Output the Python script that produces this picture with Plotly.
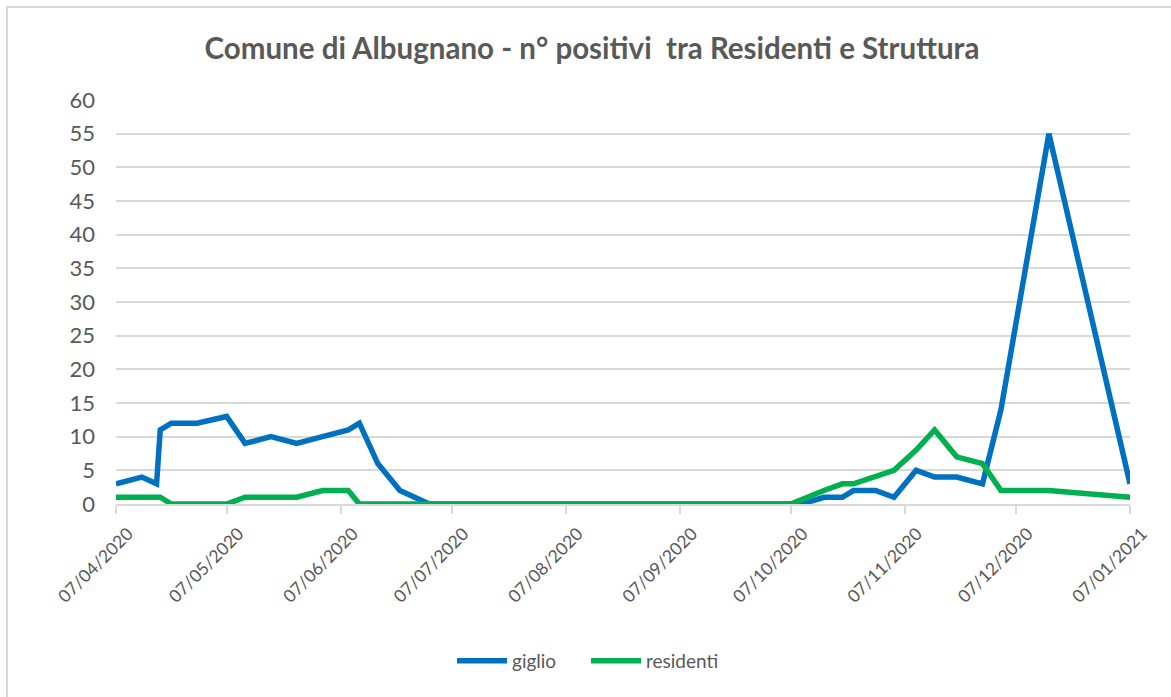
import plotly.graph_objects as go

# ---- data ----
giglio_dates = ["2020-04-07", "2020-04-14", "2020-04-18", "2020-04-19", "2020-04-22",
                "2020-04-29", "2020-05-07", "2020-05-12", "2020-05-19", "2020-05-26",
                "2020-06-02", "2020-06-09", "2020-06-12", "2020-06-17", "2020-06-23",
                "2020-07-01", "2020-08-01", "2020-09-01", "2020-10-07", "2020-10-10",
                "2020-10-16", "2020-10-21", "2020-10-24", "2020-10-30", "2020-11-04",
                "2020-11-10", "2020-11-15", "2020-11-21", "2020-11-28", "2020-12-03",
                "2020-12-16", "2021-01-07"]
giglio = [3, 4, 3, 11, 12, 12, 13, 9, 10, 9, 10, 11, 12, 6, 2,
          0, 0, 0, 0, 0, 1, 1, 2, 2, 1, 5, 4, 4, 3, 14, 55, 3]

residenti_dates = ["2020-04-07", "2020-04-14", "2020-04-18", "2020-04-19", "2020-04-22",
                   "2020-04-29", "2020-05-07", "2020-05-12", "2020-05-19", "2020-05-26",
                   "2020-06-02", "2020-06-09", "2020-06-12", "2020-06-17", "2020-06-23",
                   "2020-07-01", "2020-08-01", "2020-09-01", "2020-10-07",
                   "2020-10-16", "2020-10-21", "2020-10-24", "2020-10-30", "2020-11-04",
                   "2020-11-10", "2020-11-15", "2020-11-21", "2020-11-28", "2020-12-03",
                   "2020-12-16", "2021-01-07"]
residenti = [1, 1, 1, 1, 0, 0, 0, 1, 1, 1, 2, 2, 0, 0, 0,
             0, 0, 0, 0, 2, 3, 3, 4, 5, 8, 11, 7, 6, 2, 2, 1]

tick_dates = ["2020-04-07", "2020-05-07", "2020-06-07", "2020-07-07", "2020-08-07",
              "2020-09-07", "2020-10-07", "2020-11-07", "2020-12-07", "2021-01-07"]
tick_labels = ["07/04/2020", "07/05/2020", "07/06/2020", "07/07/2020", "07/08/2020",
               "07/09/2020", "07/10/2020", "07/11/2020", "07/12/2020", "07/01/2021"]

title = "Comune di Albugnano - n° positivi  tra Residenti e Struttura"

FONT = "Lato"
TXT = "#595959"

fig = go.Figure()
fig.add_trace(go.Scatter(x=giglio_dates, y=giglio, mode="lines", name="giglio",
                         line=dict(color="#0070C0", width=5.5)))
fig.add_trace(go.Scatter(x=residenti_dates, y=residenti, mode="lines", name="residenti",
                         line=dict(color="#00B050", width=5.5)))

W, H = 1171, 697
L, R, T, B = 116, 41, 100, 193
pw, ph = W - L - R, H - T - B

def px_x(x):
    return (x - L) / pw

def px_y(y):
    return (H - B - y) / ph

fig.add_shape(type="rect", xref="paper", yref="paper",
              x0=px_x(7), y0=px_y(705), x1=px_x(1180), y1=px_y(7),
              line=dict(color="#d9d9d9", width=2), layer="below")

fig.update_layout(
    width=W, height=H,
    margin=dict(l=L, r=R, t=T, b=B, pad=0),
    paper_bgcolor="white", plot_bgcolor="white",
    font=dict(family=FONT, color=TXT, size=18),
    title=dict(text="<b>" + title + "</b>", x=px_x(592), xref="paper", xanchor="center",
               y=1 - 49 / H, yanchor="middle",
               font=dict(family=FONT, size=29.5, color=TXT)),
    showlegend=True,
    legend=dict(orientation="h", x=px_x(452), xanchor="left", xref="paper",
                y=px_y(661), yanchor="middle",
                font=dict(family=FONT, size=19, color=TXT),
                itemwidth=50, entrywidth=69, entrywidthmode="pixels",
                tracegroupgap=0, bgcolor="rgba(0,0,0,0)"),
    xaxis=dict(type="date", range=["2020-04-07", "2021-01-07"],
               tickmode="array", tickvals=tick_dates, ticktext=tick_labels,
               tickangle=-45, tickfont=dict(family=FONT, size=17.5, color=TXT),
               ticklabelshift=12, ticklabelstandoff=3,
               showgrid=False, showline=True, linecolor="#d9d9d9", linewidth=1.5,
               ticks="outside", ticklen=8, tickcolor="#d9d9d9", tickwidth=1.5,
               zeroline=False, fixedrange=True),
    yaxis=dict(range=[0, 60], tickmode="linear", tick0=0, dtick=5,
               tickfont=dict(family=FONT, size=22, color=TXT),
               showgrid=True, gridcolor="#d9d9d9", gridwidth=1.5,
               showline=False, zeroline=False, ticks="", ticklabelstandoff=20,
               fixedrange=True),
)

fig.write_html("out.html", config={"displayModeBar": False},
               post_script="document.body.style.margin='0';document.body.style.overflow='hidden';")
